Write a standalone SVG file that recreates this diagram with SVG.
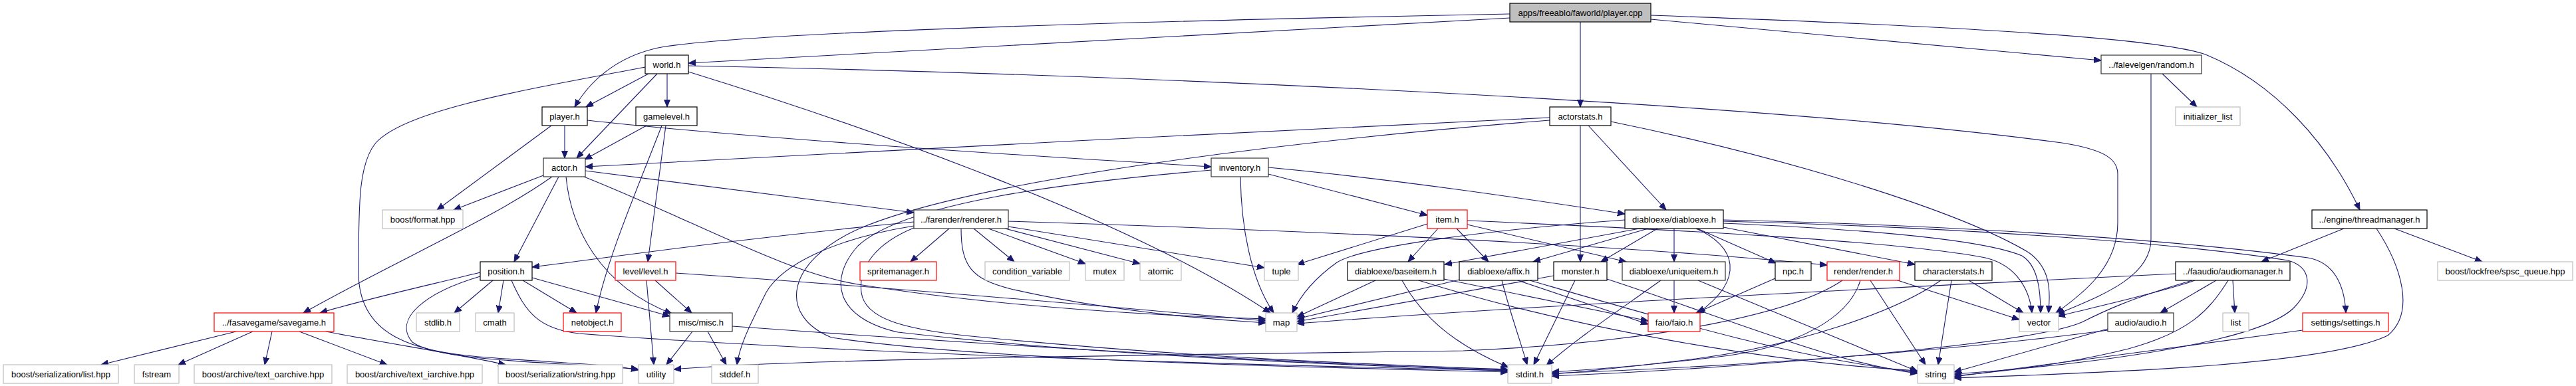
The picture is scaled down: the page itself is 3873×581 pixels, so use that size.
<svg xmlns="http://www.w3.org/2000/svg" width="3873" height="581" viewBox="0 0 3873 581">
<style>
.n rect{fill:#ffffff;stroke:#000000;stroke-width:1.2}
.n text{font-family:"Liberation Sans",Arial,Helvetica,sans-serif;font-size:13px;text-anchor:middle;fill:#000000}
.g rect{stroke:#bfbfbf}
.r rect{stroke:#ff0000}
.d rect{stroke:#333333}
.f rect{fill:#bfbfbf}
#edges path{fill:none;stroke:#191970;stroke-width:1.1;marker-end:url(#arr)}
</style>
<defs>
<marker id="arr" markerUnits="userSpaceOnUse" markerWidth="12" markerHeight="10" refX="11" refY="4.5" orient="auto">
<path d="M0,0 L11,4.5 L0,9 z" fill="#191970" stroke="#191970" stroke-width="1"/>
</marker>
</defs>
<rect x="0" y="0" width="3873" height="581" fill="#ffffff"/>
<g id="edges">
<path d="M2270,27 L1035,95"/>
<path d="M2270,21 C1700,32 1150,48 1000,70 C940,80 893,112 864,161"/>
<path d="M2376,33 L2376,161"/>
<path d="M2482,29 L3159,91"/>
<path d="M2482,23 C2900,38 3240,55 3316,82 C3420,125 3500,215 3548,316"/>
<path d="M975,111 L881,161"/>
<path d="M988,111 L867,238"/>
<path d="M1003,111 L1003,161"/>
<path d="M1035,99 C1600,110 2600,148 3100,215 C3170,226 3184,242 3184,262 L3184,335 C3184,400 3135,440 3091,471"/>
<path d="M1035,108 C1300,190 1700,330 1910,471"/>
<path d="M970,101 C790,135 610,165 565,215 C540,245 539,300 539,410 C539,505 620,528 720,537 C830,546 920,548 960,557"/>
<path d="M3251,111 L3303,161"/>
<path d="M3234,111 L3234,360 C3234,420 3150,448 3093,473"/>
<path d="M849,189 L849,238"/>
<path d="M829,189 L657,316"/>
<path d="M883,181 C1100,205 1500,232 1821,251"/>
<path d="M972,189 L879,240"/>
<path d="M995,189 C960,280 912,390 896,471"/>
<path d="M1001,189 L974,394"/>
<path d="M2330,177 C1900,195 1300,230 880,251"/>
<path d="M2388,189 L2505,316"/>
<path d="M2376,189 L2376,394"/>
<path d="M2422,183 C2700,240 2950,320 3050,380 C3085,405 3082,440 3080,471"/>
<path d="M2330,181 C1900,215 1450,275 1290,345 C1180,395 1170,475 1250,508 C1500,545 2000,553 2267,560"/>
<path d="M817,264 L682,316"/>
<path d="M830,266 C740,330 600,390 456,471"/>
<path d="M840,266 L773,394"/>
<path d="M851,266 C858,340 900,430 1010,472"/>
<path d="M880,257 C1100,285 1250,305 1374,320"/>
<path d="M878,266 C1050,335 1180,410 1290,428 C1500,462 1750,476 1903,480"/>
<path d="M1907,262 L2146,324"/>
<path d="M1907,252 C2100,270 2300,300 2443,322"/>
<path d="M1865,266 C1866,340 1880,420 1915,471"/>
<path d="M1821,256 C1600,275 1360,305 1290,370 C1245,420 1255,478 1350,500 C1700,540 2100,552 2267,558"/>
<path d="M1374,334 C1100,360 900,390 800,402"/>
<path d="M1374,340 C1250,360 1175,400 1152,440 C1127,490 1112,520 1108,549"/>
<path d="M1427,344 L1369,394"/>
<path d="M1445,344 C1445,400 1460,420 1520,435 C1650,465 1800,480 1903,486"/>
<path d="M1464,344 L1525,394"/>
<path d="M1486,344 L1632,397"/>
<path d="M1511,344 L1714,397"/>
<path d="M1516,341 L1901,403"/>
<path d="M1516,333 C1900,345 2400,365 2747,399"/>
<path d="M1374,343 C1320,365 1290,400 1295,440 C1300,480 1360,495 1450,505 C1800,540 2100,550 2267,556"/>
<path d="M2146,337 L1950,398"/>
<path d="M2162,344 L2117,394"/>
<path d="M2190,344 L2238,394"/>
<path d="M2206,338 L2445,394"/>
<path d="M2206,332 C2500,345 2850,362 2985,388 C3035,400 3052,440 3055,471"/>
<path d="M2443,331 C2250,345 2050,370 2010,395 C1975,420 1955,445 1943,471"/>
<path d="M2465,344 L2172,398"/>
<path d="M2478,344 L2305,394"/>
<path d="M2492,344 L2407,394"/>
<path d="M2517,344 L2517,394"/>
<path d="M2550,344 C2610,370 2625,420 2553,471"/>
<path d="M2552,344 L2670,396"/>
<path d="M2591,342 L2879,398"/>
<path d="M2591,336 C2800,345 2980,360 3040,385 C3065,400 3068,440 3068,471"/>
<path d="M2591,331 C2900,338 3250,358 3470,388 C3510,395 3525,430 3527,471"/>
<path d="M2591,333 C2900,341 3250,362 3440,392 C3475,402 3478,432 3450,462 C3400,515 3150,548 2938,563"/>
<path d="M3524,344 L3400,394"/>
<path d="M3600,344 L3732,394"/>
<path d="M3573,344 C3610,400 3632,470 3590,505 C3500,548 3200,560 2938,569"/>
<path d="M722,410 C650,428 550,450 481,471"/>
<path d="M722,416 C640,440 590,480 620,515 C660,545 850,545 960,556"/>
<path d="M741,422 L683,471"/>
<path d="M757,422 L749,471"/>
<path d="M786,422 L867,471"/>
<path d="M800,418 L1007,476"/>
<path d="M769,422 C790,470 810,495 870,502 C1300,535 2000,552 2267,558"/>
<path d="M972,422 L983,549"/>
<path d="M985,422 L1040,471"/>
<path d="M1016,411 C1300,430 1600,455 1903,483"/>
<path d="M2068,422 L1950,477"/>
<path d="M2108,422 C2140,480 2190,520 2268,553"/>
<path d="M2133,422 C2350,490 2650,545 2883,558"/>
<path d="M2171,420 L2478,483"/>
<path d="M2194,421 L1950,480"/>
<path d="M2258,422 C2270,470 2285,510 2296,549"/>
<path d="M2282,422 L2478,488"/>
<path d="M2300,422 C2500,480 2700,540 2883,560"/>
<path d="M2336,415 L1950,484"/>
<path d="M2368,422 L2306,549"/>
<path d="M2416,420 C2600,480 2750,545 2883,562"/>
<path d="M2497,422 C2430,470 2370,510 2325,550"/>
<path d="M2517,422 L2517,471"/>
<path d="M2553,422 L2883,559"/>
<path d="M2669,419 L2550,471"/>
<path d="M2770,422 C2700,470 2500,515 2200,528 C1700,535 1200,540 1013,556"/>
<path d="M2797,422 C2780,480 2700,520 2600,535 C2500,548 2400,556 2333,560"/>
<path d="M2812,422 L2895,549"/>
<path d="M2850,421 L3036,481"/>
<path d="M2918,422 C2850,470 2700,520 2550,540 C2450,552 2380,560 2333,563"/>
<path d="M2934,422 L2914,549"/>
<path d="M2960,422 L3042,471"/>
<path d="M3271,412 C2800,435 2300,460 1950,487"/>
<path d="M3300,422 C3250,440 3150,462 3094,476"/>
<path d="M3296,422 C3200,450 3160,470 3130,485 C3050,520 2600,555 2333,566"/>
<path d="M3332,422 L3248,471"/>
<path d="M3357,422 L3360,471"/>
<path d="M3350,422 C3320,470 3290,500 3200,525 C3100,550 3000,560 2938,566"/>
<path d="M3169,495 L2938,560"/>
<path d="M3169,497 C3000,520 2700,548 2333,562"/>
<path d="M3462,497 C3300,520 3100,545 2938,567"/>
<path d="M1041,499 L1002,549"/>
<path d="M1064,499 L1092,549"/>
<path d="M1101,491 C1500,520 2000,550 2267,557"/>
<path d="M355,499 L152,549"/>
<path d="M380,499 L268,549"/>
<path d="M409,499 L398,549"/>
<path d="M450,499 L582,549"/>
<path d="M490,499 C600,520 700,535 760,549"/>
</g>
<g id="n_cpp" class="n f"><rect x="2270" y="5" width="212" height="28"/><text x="2376" y="23.5">apps/freeablo/faworld/player.cpp</text></g>
<g id="n_world" class="n"><rect x="970" y="83" width="65" height="28"/><text x="1002.5" y="101.5">world.h</text></g>
<g id="n_random" class="n d"><rect x="3159" y="83" width="151" height="28"/><text x="3234.5" y="101.5">../falevelgen/random.h</text></g>
<g id="n_playerh" class="n"><rect x="815" y="161" width="68" height="28"/><text x="849" y="179.5">player.h</text></g>
<g id="n_gamelevel" class="n"><rect x="956" y="161" width="92" height="28"/><text x="1002" y="179.5">gamelevel.h</text></g>
<g id="n_actorstats" class="n"><rect x="2330" y="161" width="92" height="28"/><text x="2376" y="179.5">actorstats.h</text></g>
<g id="n_initlist" class="n g"><rect x="3271" y="161" width="97" height="28"/><text x="3319.5" y="179.5">initializer_list</text></g>
<g id="n_actor" class="n d"><rect x="817" y="238" width="63" height="28"/><text x="848.5" y="256.5">actor.h</text></g>
<g id="n_inventory" class="n d"><rect x="1821" y="238" width="86" height="28"/><text x="1864" y="256.5">inventory.h</text></g>
<g id="n_format" class="n g"><rect x="575" y="316" width="121" height="28"/><text x="635.5" y="334.5">boost/format.hpp</text></g>
<g id="n_renderer" class="n d"><rect x="1374" y="316" width="142" height="28"/><text x="1445" y="334.5">../farender/renderer.h</text></g>
<g id="n_item" class="n r"><rect x="2146" y="316" width="60" height="28"/><text x="2176" y="334.5">item.h</text></g>
<g id="n_diabloexe" class="n"><rect x="2443" y="316" width="148" height="28"/><text x="2517" y="334.5">diabloexe/diabloexe.h</text></g>
<g id="n_thread" class="n"><rect x="3476" y="316" width="173" height="28"/><text x="3562.5" y="334.5">../engine/threadmanager.h</text></g>
<g id="n_position" class="n"><rect x="722" y="394" width="78" height="28"/><text x="761" y="412.5">position.h</text></g>
<g id="n_level" class="n r"><rect x="925" y="394" width="91" height="28"/><text x="970.5" y="412.5">level/level.h</text></g>
<g id="n_sprite" class="n r"><rect x="1293" y="394" width="115" height="28"/><text x="1350.5" y="412.5">spritemanager.h</text></g>
<g id="n_condvar" class="n g"><rect x="1481" y="394" width="127" height="28"/><text x="1544.5" y="412.5">condition_variable</text></g>
<g id="n_mutex" class="n g"><rect x="1632" y="394" width="58" height="28"/><text x="1661" y="412.5">mutex</text></g>
<g id="n_atomic" class="n g"><rect x="1714" y="394" width="62" height="28"/><text x="1745" y="412.5">atomic</text></g>
<g id="n_tuple" class="n g"><rect x="1901" y="394" width="51" height="28"/><text x="1926.5" y="412.5">tuple</text></g>
<g id="n_baseitem" class="n"><rect x="2026" y="394" width="145" height="28"/><text x="2098.5" y="412.5">diabloexe/baseitem.h</text></g>
<g id="n_affix" class="n"><rect x="2194" y="394" width="118" height="28"/><text x="2253" y="412.5">diabloexe/affix.h</text></g>
<g id="n_monster" class="n"><rect x="2336" y="394" width="80" height="28"/><text x="2376" y="412.5">monster.h</text></g>
<g id="n_unique" class="n d"><rect x="2439" y="394" width="155" height="28"/><text x="2516.5" y="412.5">diabloexe/uniqueitem.h</text></g>
<g id="n_npc" class="n"><rect x="2669" y="394" width="54" height="28"/><text x="2696" y="412.5">npc.h</text></g>
<g id="n_render" class="n r"><rect x="2747" y="394" width="109" height="28"/><text x="2801.5" y="412.5">render/render.h</text></g>
<g id="n_charstats" class="n"><rect x="2879" y="394" width="116" height="28"/><text x="2937" y="412.5">characterstats.h</text></g>
<g id="n_audiomgr" class="n"><rect x="3271" y="394" width="172" height="28"/><text x="3357" y="412.5">../faaudio/audiomanager.h</text></g>
<g id="n_spsc" class="n g"><rect x="3665" y="394" width="203" height="28"/><text x="3766.5" y="412.5">boost/lockfree/spsc_queue.hpp</text></g>
<g id="n_savegame" class="n r"><rect x="322" y="471" width="180" height="28"/><text x="412" y="489.5">../fasavegame/savegame.h</text></g>
<g id="n_stdlib" class="n g"><rect x="626" y="471" width="65" height="28"/><text x="658.5" y="489.5">stdlib.h</text></g>
<g id="n_cmath" class="n g"><rect x="715" y="471" width="58" height="28"/><text x="744" y="489.5">cmath</text></g>
<g id="n_netobject" class="n r"><rect x="847" y="471" width="87" height="28"/><text x="890.5" y="489.5">netobject.h</text></g>
<g id="n_misc" class="n d"><rect x="1007" y="471" width="94" height="28"/><text x="1054" y="489.5">misc/misc.h</text></g>
<g id="n_map" class="n g"><rect x="1903" y="471" width="47" height="28"/><text x="1926.5" y="489.5">map</text></g>
<g id="n_faio" class="n r"><rect x="2478" y="471" width="78" height="28"/><text x="2517" y="489.5">faio/faio.h</text></g>
<g id="n_vector" class="n g"><rect x="3036" y="471" width="59" height="28"/><text x="3065.5" y="489.5">vector</text></g>
<g id="n_audio" class="n d"><rect x="3169" y="471" width="99" height="28"/><text x="3218.5" y="489.5">audio/audio.h</text></g>
<g id="n_list" class="n g"><rect x="3342" y="471" width="39" height="28"/><text x="3361.5" y="489.5">list</text></g>
<g id="n_settings" class="n r"><rect x="3462" y="471" width="129" height="28"/><text x="3526.5" y="489.5">settings/settings.h</text></g>
<g id="n_serlist" class="n g"><rect x="5" y="549" width="173" height="28"/><text x="91.5" y="567.5">boost/serialization/list.hpp</text></g>
<g id="n_fstream" class="n g"><rect x="202" y="549" width="67" height="28"/><text x="235.5" y="567.5">fstream</text></g>
<g id="n_oarchive" class="n g"><rect x="292" y="549" width="207" height="28"/><text x="395.5" y="567.5">boost/archive/text_oarchive.hpp</text></g>
<g id="n_iarchive" class="n g"><rect x="522" y="549" width="203" height="28"/><text x="623.5" y="567.5">boost/archive/text_iarchive.hpp</text></g>
<g id="n_serstring" class="n g"><rect x="749" y="549" width="187" height="28"/><text x="842.5" y="567.5">boost/serialization/string.hpp</text></g>
<g id="n_utility" class="n g"><rect x="960" y="549" width="53" height="28"/><text x="986.5" y="567.5">utility</text></g>
<g id="n_stddef" class="n g"><rect x="1070" y="549" width="70" height="28"/><text x="1105" y="567.5">stddef.h</text></g>
<g id="n_stdint" class="n g"><rect x="2267" y="549" width="66" height="28"/><text x="2300" y="567.5">stdint.h</text></g>
<g id="n_string" class="n g"><rect x="2883" y="549" width="55" height="28"/><text x="2910.5" y="567.5">string</text></g>
</svg>
